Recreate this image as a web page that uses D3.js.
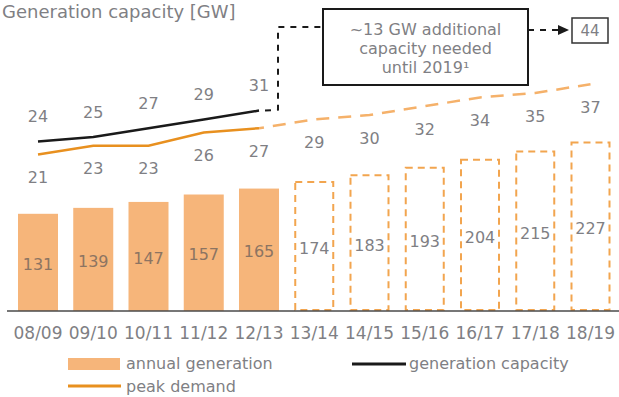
<!DOCTYPE html>
<html>
<head>
<meta charset="utf-8">
<script src="https://cdn.jsdelivr.net/npm/d3@7"></script>
<style>
  html, body { margin: 0; padding: 0; background: #fff; }
  svg { display: block; font-family: "DejaVu Sans", Verdana, sans-serif; }
</style>
</head>
<body>
<svg id="chart" width="619" height="397"></svg>
<script>
// Fiscal years
const years = ["08/09", "09/10", "10/11", "11/12", "12/13", "13/14", "14/15", "15/16", "16/17", "17/18", "18/19"];
// Annual generation (TWh): first five actual, rest projected
const generation = [131, 139, 147, 157, 165, 174, 183, 193, 204, 215, 227];
const actualCount = 5;
// Peak demand (GW)
const peakDemand = [21, 23, 23, 26, 27, 29, 30, 32, 34, 35, 37];
// Installed generation capacity (GW), actual years only
const capacity = [24, 25, 27, 29, 31];
// Capacity required by 18/19
const capacityTarget = 44;
const noteLines = ["~13 GW additional", "capacity needed", "until 2019¹"];

const svg = d3.select("#chart");
const textColor = "#7f7f84";
const barFill = "#f6b57a";
const barDash = "#f2a54f";
const peakColor = "#e8901f";

const x = d3.scaleBand().domain(years).range([18, 610.5]).paddingInner(0.276).paddingOuter(0);
const cx = d => x(d) + x.bandwidth() / 2;
const yBar = d3.scaleLinear().domain([0, 250]).range([311, 125.5]);
const yLine = d3.scaleLinear().domain([20, 40]).range([159, 71]);

// Title
svg.append("text")
  .attr("x", 2).attr("y", 18)
  .attr("font-size", 18).attr("fill", textColor)
  .text("Generation capacity [GW]");

// Bars
const bars = svg.append("g");
bars.selectAll("rect.actual")
  .data(generation.slice(0, actualCount))
  .join("rect")
  .attr("x", (d, i) => x(years[i]))
  .attr("y", d => yBar(d))
  .attr("width", x.bandwidth())
  .attr("height", d => yBar(0) - yBar(d))
  .attr("fill", barFill);

bars.selectAll("rect.proj")
  .data(generation.slice(actualCount))
  .join("rect")
  .attr("x", (d, i) => x(years[i + actualCount]) + 1)
  .attr("y", d => yBar(d))
  .attr("width", x.bandwidth() - 2)
  .attr("height", d => yBar(0) - yBar(d) - 1)
  .attr("fill", "#fff")
  .attr("stroke", barDash)
  .attr("stroke-width", 2)
  .attr("stroke-dasharray", "7,5");

// Bar value labels
svg.append("g").selectAll("text")
  .data(generation)
  .join("text")
  .attr("x", (d, i) => cx(years[i]))
  .attr("y", d => (yBar(d) + yBar(0)) / 2 + 3)
  .attr("text-anchor", "middle")
  .attr("dominant-baseline", "middle")
  .attr("font-size", 16)
  .attr("fill", (d, i) => i < actualCount ? "#8c7462" : textColor)
  .text(d => d);

// Baseline axis
const axis = svg.append("g").attr("transform", `translate(0,${yBar(0)})`)
  .call(d3.axisBottom(x).tickSize(0).tickPadding(16));
axis.select(".domain").attr("d", "M7,0H619").attr("stroke", "#4a4a4a").attr("stroke-width", 1.5);
axis.selectAll(".tick text")
  .attr("font-family", "DejaVu Sans, Verdana, sans-serif")
  .attr("font-size", 17).attr("fill", textColor)
  .attr("dy", "0.68em");

// Lines
const line = d3.line().x(d => cx(d.year)).y(d => yLine(d.v));
const peakPts = peakDemand.map((v, i) => ({ year: years[i], v }));
const capPts = capacity.map((v, i) => ({ year: years[i], v }));

svg.append("path")
  .attr("d", line(peakPts.slice(actualCount - 1)))
  .attr("fill", "none").attr("stroke", "#f5b16a")
  .attr("stroke-width", 2.5).attr("stroke-dasharray", "13,9")
  .attr("stroke-dashoffset", -14);

svg.append("path")
  .attr("d", line(peakPts.slice(0, actualCount)))
  .attr("fill", "none").attr("stroke", peakColor).attr("stroke-width", 2.5);

svg.append("path")
  .attr("d", line(capPts))
  .attr("fill", "none").attr("stroke", "#1a1a1a").attr("stroke-width", 2.5);

// Point labels
svg.append("g").selectAll("text")
  .data(capPts)
  .join("text")
  .attr("x", d => cx(d.year))
  .attr("y", d => yLine(d.v) - 24)
  .attr("text-anchor", "middle").attr("dominant-baseline", "middle")
  .attr("font-size", 16).attr("fill", textColor)
  .text(d => d.v);

svg.append("g").selectAll("text")
  .data(peakPts)
  .join("text")
  .attr("x", d => cx(d.year))
  .attr("y", d => yLine(d.v) + 24)
  .attr("text-anchor", "middle").attr("dominant-baseline", "middle")
  .attr("font-size", 16).attr("fill", textColor)
  .text(d => d.v);

// Note box with dashed connector
const lastCap = capPts[capPts.length - 1];
const connX = 278, connY = 27;
const noteBox = { x: 323, y: 9, w: 205, h: 76 };
const targetBox = { x: 572, y: 18, w: 36, h: 25 };

svg.append("path")
  .attr("d", `M${cx(lastCap.year) + 6},${yLine(lastCap.v)}L${connX},${yLine(lastCap.v) - 1}V${connY}H${noteBox.x}`)
  .attr("fill", "none").attr("stroke", "#1a1a1a")
  .attr("stroke-width", 2).attr("stroke-dasharray", "6,6");

svg.append("path")
  .attr("d", `M${noteBox.x + noteBox.w},${connY + 3}H${targetBox.x - 12}`)
  .attr("fill", "none").attr("stroke", "#1a1a1a")
  .attr("stroke-width", 2).attr("stroke-dasharray", "6,6");

svg.append("path")
  .attr("d", `M${targetBox.x - 14},${connY - 2}L${targetBox.x - 3},${connY + 3}L${targetBox.x - 14},${connY + 8}Z`)
  .attr("fill", "#1a1a1a");

svg.append("rect")
  .attr("x", noteBox.x).attr("y", noteBox.y)
  .attr("width", noteBox.w).attr("height", noteBox.h)
  .attr("fill", "#fff").attr("stroke", "#1a1a1a").attr("stroke-width", 2);

svg.append("g").selectAll("text")
  .data(noteLines)
  .join("text")
  .attr("x", noteBox.x + noteBox.w / 2)
  .attr("y", (d, i) => 30 + i * 19)
  .attr("text-anchor", "middle").attr("dominant-baseline", "middle")
  .attr("font-size", 16).attr("fill", textColor)
  .text(d => d);

svg.append("rect")
  .attr("x", targetBox.x).attr("y", targetBox.y)
  .attr("width", targetBox.w).attr("height", targetBox.h)
  .attr("fill", "#fff").attr("stroke", "#333").attr("stroke-width", 1.5);

svg.append("text")
  .attr("x", targetBox.x + targetBox.w / 2).attr("y", targetBox.y + targetBox.h / 2 + 1)
  .attr("text-anchor", "middle").attr("dominant-baseline", "middle")
  .attr("font-size", 15).attr("fill", textColor)
  .text(capacityTarget);

// Legend
const legend = svg.append("g").attr("font-size", 16).attr("fill", textColor);
legend.append("rect").attr("x", 68).attr("y", 358).attr("width", 52).attr("height", 12).attr("fill", barFill);
legend.append("text").attr("x", 126).attr("y", 364).attr("dominant-baseline", "middle").text("annual generation");
legend.append("line").attr("x1", 68).attr("x2", 121).attr("y1", 386).attr("y2", 386)
  .attr("stroke", peakColor).attr("stroke-width", 3);
legend.append("text").attr("x", 126).attr("y", 387).attr("dominant-baseline", "middle").text("peak demand");
legend.append("line").attr("x1", 352).attr("x2", 406).attr("y1", 364).attr("y2", 364)
  .attr("stroke", "#1a1a1a").attr("stroke-width", 3);
legend.append("text").attr("x", 409).attr("y", 364).attr("dominant-baseline", "middle").text("generation capacity");
</script>
</body>
</html>
